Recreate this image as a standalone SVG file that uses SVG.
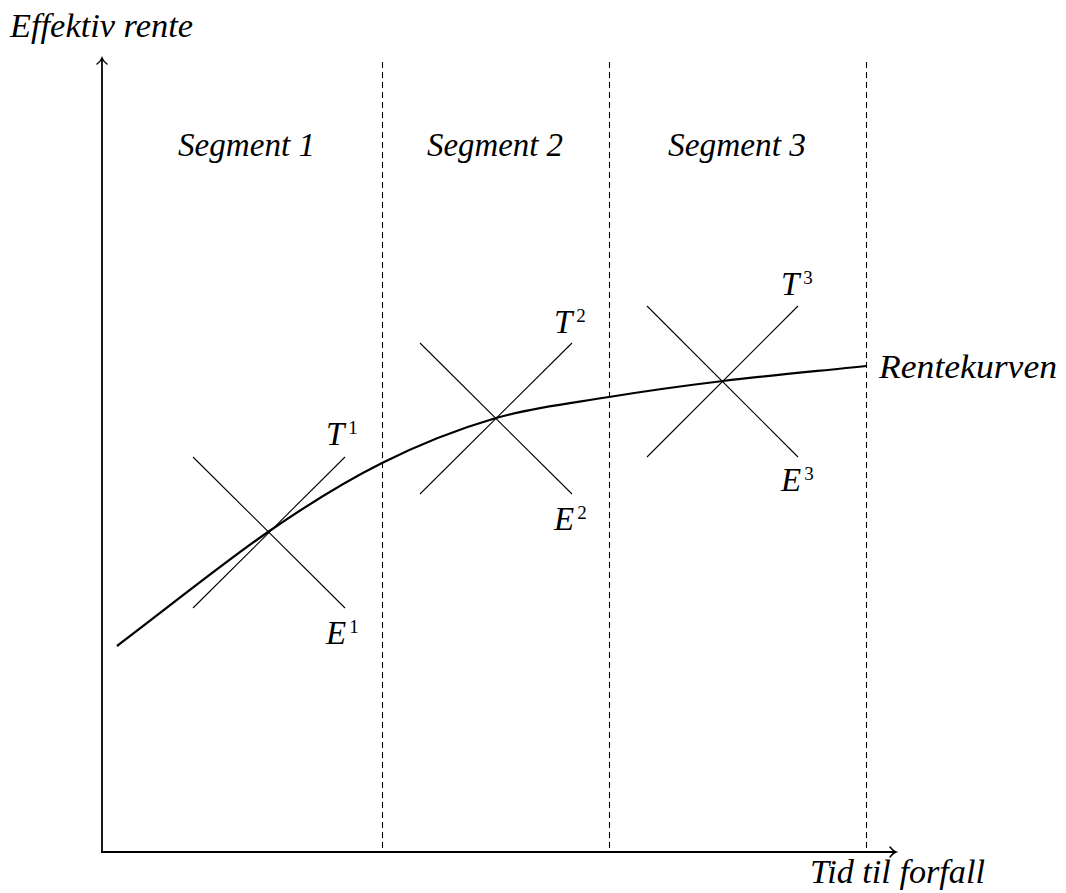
<svg xmlns="http://www.w3.org/2000/svg" width="1066" height="893" viewBox="0 0 1066 893">
<defs>
<marker id="arr" markerWidth="14" markerHeight="14" refX="9" refY="7" orient="auto" markerUnits="userSpaceOnUse">
<path d="M3,2 Q6,6 9,7 Q6,8 3,12" fill="none" stroke="#000" stroke-width="1.5" stroke-linecap="round"/>
</marker>
</defs>
<rect width="1066" height="893" fill="#fff"/>
<g id="axes">
<line x1="102" y1="852" x2="102" y2="58" stroke="#000" stroke-width="1.8" marker-end="url(#arr)"/>
<line x1="101" y1="852" x2="896" y2="852" stroke="#000" stroke-width="1.8" marker-end="url(#arr)"/>
<text style="font-family:'Liberation Serif';font-style:italic;font-size:33px" x="10" y="37" textLength="183" lengthAdjust="spacingAndGlyphs">Effektiv rente</text>
<text style="font-family:'Liberation Serif';font-style:italic;font-size:33px" x="810" y="883" textLength="175" lengthAdjust="spacingAndGlyphs">Tid til forfall</text>
</g>
<g id="dividers" stroke="#000" stroke-width="1.1" stroke-dasharray="6,4">
<line x1="382.5" y1="62" x2="382.5" y2="852"/>
<line x1="609.5" y1="62" x2="609.5" y2="852"/>
<line x1="866.5" y1="62" x2="866.5" y2="852"/>
</g>
<g id="segments">
<text style="font-family:'Liberation Serif';font-style:italic;font-size:33px" x="178" y="156" textLength="137" lengthAdjust="spacingAndGlyphs">Segment 1</text>
<text style="font-family:'Liberation Serif';font-style:italic;font-size:33px" x="427" y="156" textLength="136" lengthAdjust="spacingAndGlyphs">Segment 2</text>
<text style="font-family:'Liberation Serif';font-style:italic;font-size:33px" x="668" y="156" textLength="138" lengthAdjust="spacingAndGlyphs">Segment 3</text>
</g>
<g id="cross1">
<line x1="193" y1="457" x2="345" y2="608" stroke="#000" stroke-width="1.1"/>
<line x1="193" y1="608" x2="345" y2="457" stroke="#000" stroke-width="1.1"/>
<text style="font-family:'Liberation Serif';font-style:italic;font-size:33px" x="326" y="445">T<tspan style="font-size:19px;font-style:normal" dx="4" dy="-11">1</tspan></text>
<text style="font-family:'Liberation Serif';font-style:italic;font-size:33px" x="326" y="644">E<tspan style="font-size:19px;font-style:normal" dx="3" dy="-11">1</tspan></text>
</g>
<g id="cross2">
<line x1="420" y1="343" x2="572" y2="494" stroke="#000" stroke-width="1.1"/>
<line x1="420" y1="494" x2="572" y2="343" stroke="#000" stroke-width="1.1"/>
<text style="font-family:'Liberation Serif';font-style:italic;font-size:33px" x="554" y="333">T<tspan style="font-size:19px;font-style:normal" dx="4" dy="-11">2</tspan></text>
<text style="font-family:'Liberation Serif';font-style:italic;font-size:33px" x="554" y="530">E<tspan style="font-size:19px;font-style:normal" dx="3" dy="-11">2</tspan></text>
</g>
<g id="cross3">
<line x1="647" y1="306" x2="798" y2="457" stroke="#000" stroke-width="1.1"/>
<line x1="647" y1="457" x2="798" y2="306" stroke="#000" stroke-width="1.1"/>
<text style="font-family:'Liberation Serif';font-style:italic;font-size:33px" x="781" y="295">T<tspan style="font-size:19px;font-style:normal" dx="4" dy="-11">3</tspan></text>
<text style="font-family:'Liberation Serif';font-style:italic;font-size:33px" x="781" y="491">E<tspan style="font-size:19px;font-style:normal" dx="3" dy="-11">3</tspan></text>
</g>
<g id="curve">
<path d="M117,646 C167.3,608 223.8,562.5 268,532 C312.2,501.5 344,482 382,463 C420,444 458.2,429 496,418 C533.8,407 571.2,403.2 609,397 C646.8,390.8 680.2,386.2 723,381 C765.8,375.8 818.3,371 866,366" fill="none" stroke="#000" stroke-width="2.2"/>
<text style="font-family:'Liberation Serif';font-style:italic;font-size:33px" x="879" y="378" textLength="178" lengthAdjust="spacingAndGlyphs">Rentekurven</text>
</g>
</svg>
